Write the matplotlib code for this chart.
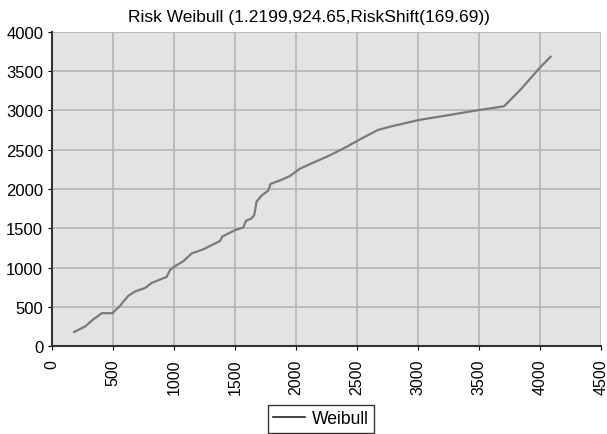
import numpy as np
import matplotlib.pyplot as plt

plt.rcParams['font.family'] = ['Liberation Sans', 'DejaVu Sans']

# values
x_vals = [180, 270, 338, 407, 494, 516, 557, 584, 625, 680, 762, 816, 898, 939,
          966, 999, 1076, 1144, 1239, 1321, 1376, 1395, 1504, 1567, 1589, 1635,
          1657, 1676, 1717, 1772, 1791, 1867, 1949, 2031, 2140, 2277, 2413, 2522,
          2672, 2795, 3006, 3260, 3505, 3705, 3847, 3997, 4087]
y_vals = [180, 250, 342, 419, 419, 453, 513, 568, 641, 696, 740, 804, 855, 881,
          966, 1009, 1081, 1179, 1231, 1295, 1337, 1394, 1478, 1509, 1594, 1624,
          1667, 1838, 1915, 1979, 2064, 2107, 2163, 2256, 2333, 2427, 2534, 2628,
          2750, 2800, 2876, 2940, 3004, 3050, 3273, 3538, 3680]

fig = plt.figure(figsize=(6.07, 4.35), dpi=100)
ax = fig.add_axes([0.086, 0.202, 0.904, 0.723])
ax.set_facecolor('#e3e3e3')

ax.plot(x_vals, y_vals, color='#7a7a7a', lw=1.6, label='Weibull')

ax.set_xlim(0, 4500)
ax.set_ylim(0, 4000)
ax.set_xticks(np.arange(0, 4501, 500))
ax.set_yticks(np.arange(0, 4001, 500))
ax.tick_params(axis='x', labelrotation=90, labelsize=11.5, length=3, pad=6)
ax.tick_params(axis='y', labelsize=12, length=3)
ax.grid(True, color='#b5b5b5', lw=1.2)
ax.set_axisbelow(True)

for s in ['top', 'right']:
    ax.spines[s].set_visible(False)
ax.spines['left'].set_linewidth(1.5)
ax.spines['bottom'].set_linewidth(1.5)
ax.spines['left'].set_color('#333333')
ax.spines['bottom'].set_color('#333333')

ax.set_title('Risk Weibull (1.2199,924.65,RiskShift(169.69))', fontsize=12.5,
             pad=8, x=0.468)

leg = fig.legend(loc='center', bbox_to_anchor=(0.529, 0.035), fontsize=12.7,
                 frameon=True, fancybox=False, edgecolor='black',
                 handlelength=1.8, handletextpad=0.4, borderpad=0.3)
leg.get_lines()[0].set_color('#222222')
leg.get_lines()[0].set_linewidth(1.2)

fig.savefig('out.png', dpi=100)
